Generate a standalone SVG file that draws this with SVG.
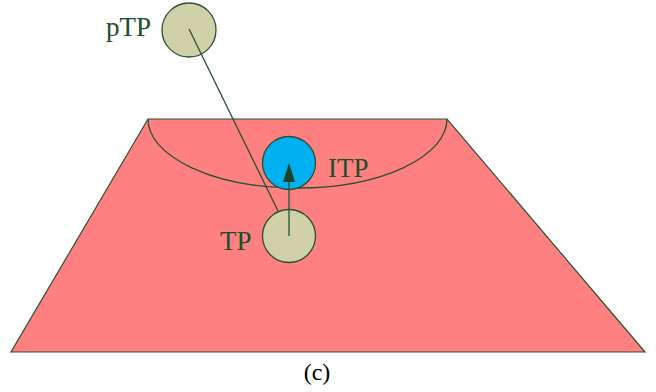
<svg xmlns="http://www.w3.org/2000/svg" width="656" height="392" viewBox="0 0 656 392">
<style>
.lbl{font-family:"Liberation Serif","Times New Roman",serif;font-size:27px;fill:#1e4d2b}
.cap{font-family:"Liberation Serif","Times New Roman",serif;font-size:24px;fill:#000}
.ln{stroke:#2a5034;stroke-width:1.3;fill:none}
.node{fill:#d1d1a9;stroke:#2a5034;stroke-width:1.3}
</style>
<g id="plane">
<polygon points="148,119 447,119 645,352 11,352" fill="#ff8080" stroke="#2a5034" stroke-width="1.2"/>
<path class="ln" d="M148,119 A149.5,69 0 0 0 447,119"/>
</g>
<g id="ITP">
<circle cx="289" cy="163" r="26.5" fill="#00b0f0" stroke="#2a5034" stroke-width="1.3"/>
<text class="lbl" x="328" y="177">ITP</text>
</g>
<g id="TP">
<circle class="node" cx="289" cy="236" r="26.5"/>
<text class="lbl" x="220" y="250">TP</text>
</g>
<g id="pTP">
<circle class="node" cx="189" cy="30" r="27"/>
<text class="lbl" x="106" y="36">pTP</text>
</g>
<g id="connectors">
<line class="ln" x1="189" y1="29" x2="278" y2="211"/>
<line class="ln" x1="289" y1="236" x2="289" y2="180"/>
<polygon points="289,163 283,182 295,182" fill="#1a4426"/>
</g>
<text class="cap" x="317" y="380" text-anchor="middle">(c)</text>
</svg>
